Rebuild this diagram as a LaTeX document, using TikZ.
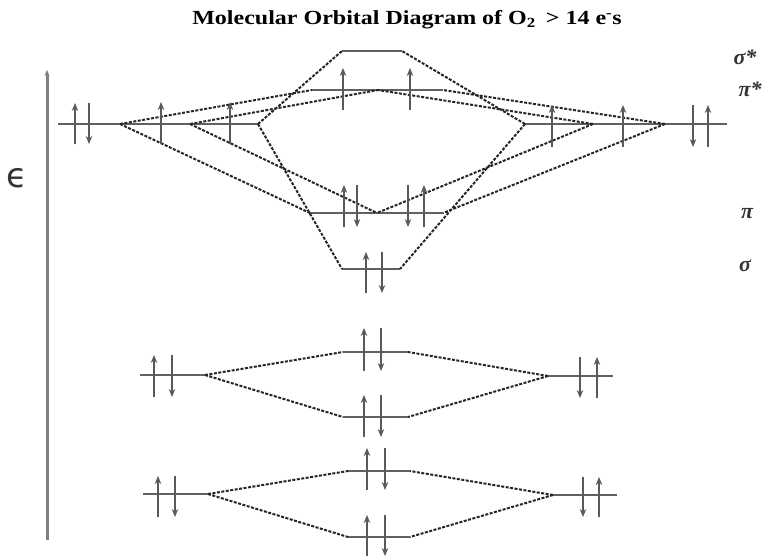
\documentclass[tikz,border=0pt]{standalone}
\usepackage{fontspec}
\setmainfont{Liberation Serif}
\newfontfamily\epsfont{DejaVu Sans}
\usetikzlibrary{arrows.meta}

\begin{document}
\begin{tikzpicture}[x=1pt,y=-1pt,
    level/.style={draw=black!62,line width=1.8pt},
    link/.style={draw=black!85,line width=2pt,dash pattern=on 3pt off 1.5pt},
    spin/.style={draw=black!65,line width=1.8pt,-{Stealth[length=8pt,width=6.5pt]}},
    molabel/.style={font=\fontsize{22}{24}\selectfont\bfseries\itshape,text=black!80}]
    \useasboundingbox (0,0) rectangle (774,557);

    % Title
    \node (title) at (407,20) {\scalebox{1.2}[1]{\fontsize{20}{24}\selectfont\bfseries Molecular Orbital Diagram of O\textsubscript{2} \,> 14 e\textsuperscript{-}s}};

    % Draw energy axis
    \coordinate (ebot) at (47,540);
    \coordinate (etop) at (47,70);
    \draw[black!50,line width=3pt,-{Stealth[length=6pt,width=5pt]}] (ebot) -- (etop);
    \node[text=black!80] (eps) at (17,178) {\fontsize{34}{34}\selectfont\epsfont ϵ};

    % 2p levels of the two atoms
    \coordinate (lp0) at (58,124);
    \coordinate (lp1) at (120,124);
    \coordinate (lp2) at (190,124);
    \coordinate (lp3) at (258,124);
    \coordinate (rp0) at (525,124);
    \coordinate (rp1) at (593,124);
    \coordinate (rp2) at (665,124);
    \coordinate (rp3) at (727,124);

    % 2p molecular orbitals
    \coordinate (sgs-l) at (342,51);
    \coordinate (sgs-r) at (402,51);
    \coordinate (pis-l) at (312,90);
    \coordinate (pis-c) at (378,90);
    \coordinate (pis-r) at (443,90);
    \coordinate (pi-l) at (310,213);
    \coordinate (pi-c) at (377,213);
    \coordinate (pi-r) at (443,213);
    \coordinate (sg-l) at (342,269);
    \coordinate (sg-r) at (400,269);

    \draw[level] (lp0) -- (lp3);
    \draw[level] (rp0) -- (rp3);
    \draw[level] (sgs-l) -- (sgs-r);
    \draw[level] (pis-l) -- (pis-r);
    \draw[level] (pi-l) -- (pi-r);
    \draw[level] (sg-l) -- (sg-r);

    \draw[link] (lp1) -- (pis-l)  (lp1) -- (pi-l)
                (lp2) -- (pis-c)  (lp2) -- (pi-c)
                (lp3) -- (sgs-l)  (lp3) -- (sg-l)
                (rp0) -- (sgs-r)  (rp0) -- (sg-r)
                (rp1) -- (pis-c)  (rp1) -- (pi-c)
                (rp2) -- (pis-r)  (rp2) -- (pi-r);

    % 2s and 1s levels
    \coordinate (s2-l0) at (140,375);
    \coordinate (s2-l1) at (205,375);
    \coordinate (s2-al) at (343,352);
    \coordinate (s2-ar) at (408,352);
    \coordinate (s2-bl) at (343,417);
    \coordinate (s2-br) at (408,417);
    \coordinate (s2-r0) at (548,376);
    \coordinate (s2-r1) at (613,376);

    \coordinate (s1-l0) at (143,494);
    \coordinate (s1-l1) at (208,494);
    \coordinate (s1-al) at (348,471);
    \coordinate (s1-ar) at (410,471);
    \coordinate (s1-bl) at (348,537);
    \coordinate (s1-br) at (410,537);
    \coordinate (s1-r0) at (553,495);
    \coordinate (s1-r1) at (617,495);

    \foreach \n in {s2,s1} {
        \draw[level] (\n-l0) -- (\n-l1);
        \draw[level] (\n-al) -- (\n-ar);
        \draw[level] (\n-bl) -- (\n-br);
        \draw[level] (\n-r0) -- (\n-r1);
        \draw[link] (\n-l1) -- (\n-al)  (\n-l1) -- (\n-bl)
                    (\n-r0) -- (\n-ar)  (\n-r0) -- (\n-br);
    }

    % Electrons
    \foreach \x/\a/\b in {75/144/103, 161/144/102, 230/144/102, 552/147/105,
        623/147/105, 708/147/105, 343/110/68, 410/110/68, 344/227/185,
        424/227/185, 366/293/252, 154/397/355, 364/371/328, 364/437/395,
        597/398/357, 158/517/476, 367/490/448, 367/556/515, 599/517/477}
        \draw[spin] (\x,\a) -- (\x,\b);
    \foreach \x/\a/\b in {89/103/144, 693/105/147, 357/185/227, 408/185/227,
        382/252/293, 172/355/397, 381/328/371, 381/395/437, 580/357/398,
        175/476/517, 385/448/490, 385/515/556, 583/477/517}
        \draw[spin] (\x,\a) -- (\x,\b);

    % Labels
    \node[molabel] (lab-sgs) at (745,57) {σ*};
    \node[molabel] (lab-pis) at (750,89) {π*};
    \node[molabel] (lab-pi) at (747,214) {π};
    \node[molabel] (lab-sg) at (745,266) {σ};
\end{tikzpicture}
\end{document}
